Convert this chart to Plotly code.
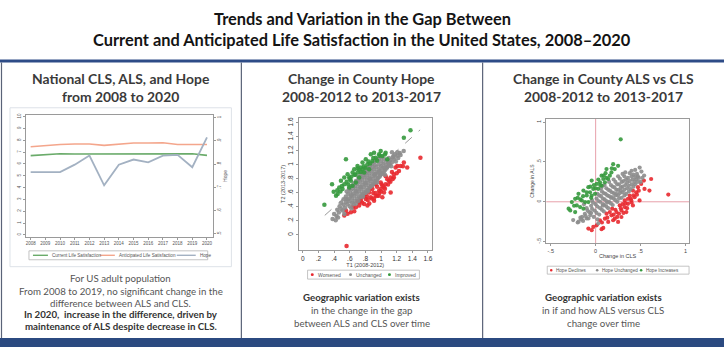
import plotly.graph_objects as go

W, H = 725, 348

def X(px):
    return px / W

def Y(py):
    return 1 - py / H

# ---------------- data ----------------
years = list(range(2008, 2021))
current_ls = [6.71, 6.81, 6.87, 6.84, 6.84, 6.84, 6.84, 6.87, 6.87, 6.87, 6.81, 6.87, 6.73]
anticipated_ls = [7.46, 7.57, 7.65, 7.69, 7.69, 7.57, 7.69, 7.77, 7.77, 7.80, 7.65, 7.65, 7.65]
hope = [0.766, 0.766, 0.766, 0.798, 0.837, 0.709, 0.798, 0.820, 0.808, 0.837, 0.840, 0.787, 0.915]
left_ticks = list(range(0, 11))
hope_ticks = [0.5, 0.6, 0.7, 0.8, 0.9, 1.0]
hope_ticktext = [".5", ".6", ".7", ".8", ".9", "1"]

mid_ticks = [0, 0.2, 0.4, 0.6, 0.8, 1.0, 1.2, 1.4, 1.6]
mid_ticktext = ["0", ".2", ".4", ".6", ".8", "1", "1.2", "1.4", "1.6"]
diag = [0.28, 1.5]

mid_worsened = [
    (0.53, 0.278), (0.572, 0.302), (0.551, 0.349), (0.657, 0.34), (0.72, 0.467), (0.742, 0.49),
    (0.784, 0.443), (0.826, 0.42), (0.805, 0.514), (0.869, 0.538), (0.911, 0.49), (0.953, 0.561),
    (0.975, 0.632), (1.017, 0.538), (1.038, 0.608), (1.059, 0.726), (1.102, 0.774), (1.123, 0.608),
    (1.165, 0.868), (1.186, 0.962), (1.208, 0.986), (1.25, 0.986), (1.292, 1.033), (1.335, 0.962),
    (1.504, 1.104), (1.038, 0.679), (0.932, 0.726), (0.996, 0.75), (0.847, 0.608), (0.763, 0.561),
    (0.89, 0.656), (1.165, 0.821), (1.229, 0.915), (0.559, -0.156), (0.678, 0.396), (0.614, 0.325),
    (0.932, 0.561), (0.996, 0.656), (1.08, 0.797), (1.123, 0.821), (0.80, 0.58), (0.86, 0.66),
    (0.74, 0.52), (0.95, 0.69), (1.01, 0.72), (0.70, 0.48), (0.83, 0.50), (0.90, 0.60),
    (0.78, 0.55), (0.64, 0.40), (0.88, 0.70), (1.06, 0.84), (1.14, 0.90), (0.98, 0.60),
    (0.85, 0.45), (0.88, 0.52), (0.93, 0.60), (0.97, 0.56), (1.00, 0.62), (1.05, 0.66), (1.09, 0.72),
    (1.12, 0.76), (0.72, 0.42), (0.76, 0.46), (0.82, 0.55), (0.91, 0.52), (1.15, 0.80), (1.20, 0.88),
    (1.28, 0.98), (1.02, 0.70),
]
mid_unchanged = [
    (0.38, 0.23), (0.42, 0.21), (0.40, 0.30), (0.43, 0.27), (0.44, 0.36), (0.46, 0.32), (0.47, 0.41),
    (0.49, 0.37), (0.49, 0.46), (0.51, 0.35), (0.52, 0.43), (0.52, 0.51), (0.54, 0.39), (0.55, 0.47),
    (0.55, 0.55), (0.57, 0.44), (0.58, 0.51), (0.58, 0.59), (0.60, 0.41), (0.60, 0.48), (0.61, 0.55),
    (0.61, 0.63), (0.63, 0.46), (0.63, 0.52), (0.64, 0.59), (0.64, 0.67), (0.66, 0.49), (0.66, 0.56),
    (0.67, 0.63), (0.67, 0.70), (0.69, 0.52), (0.69, 0.59), (0.70, 0.66), (0.70, 0.73), (0.71, 0.79),
    (0.72, 0.55), (0.72, 0.62), (0.73, 0.69), (0.73, 0.76), (0.74, 0.82), (0.75, 0.58), (0.75, 0.65),
    (0.76, 0.72), (0.76, 0.79), (0.77, 0.85), (0.78, 0.61), (0.78, 0.68), (0.79, 0.75), (0.79, 0.82),
    (0.80, 0.88), (0.81, 0.64), (0.81, 0.71), (0.82, 0.78), (0.82, 0.85), (0.83, 0.91), (0.84, 0.67),
    (0.84, 0.74), (0.85, 0.81), (0.85, 0.88), (0.86, 0.94), (0.87, 0.70), (0.87, 0.77), (0.88, 0.84),
    (0.88, 0.91), (0.89, 0.97), (0.90, 0.73), (0.90, 0.80), (0.91, 0.87), (0.91, 0.94), (0.92, 1.00),
    (0.93, 0.77), (0.93, 0.84), (0.94, 0.90), (0.94, 0.97), (0.96, 0.81), (0.96, 0.88), (0.97, 0.94),
    (0.97, 1.01), (0.99, 0.85), (0.99, 0.92), (1.00, 0.98), (1.00, 1.05), (1.02, 0.89), (1.02, 0.96),
    (1.03, 1.02), (1.04, 1.08), (1.05, 0.93), (1.06, 1.00), (1.07, 1.06), (1.08, 0.97), (1.09, 1.04),
    (1.10, 1.10), (1.11, 1.01), (1.12, 1.07), (1.14, 1.04), (1.15, 1.11), (1.17, 1.08), (1.18, 1.15),
    (1.21, 1.13), (1.24, 1.17), (1.14, 1.18), (1.21, 1.18), (1.29, 1.20), (1.25, 1.14), (0.45, 0.25),
    (0.53, 0.30), (0.62, 0.38), (0.68, 0.45), (0.77, 0.58), (0.83, 0.62), (0.95, 0.75), (1.05, 0.86),
    (0.56, 0.62), (0.59, 0.66), (0.62, 0.70), (0.65, 0.74), (0.68, 0.77), (0.71, 0.83), (0.74, 0.87),
    (0.77, 0.90), (0.80, 0.93), (0.83, 0.96), (0.86, 0.99), (0.89, 1.02), (0.92, 1.05), (0.95, 1.08),
    (0.98, 1.09), (1.01, 1.11), (0.65, 0.44), (0.71, 0.49), (0.74, 0.54), (0.77, 0.55), (0.80, 0.60),
    (0.83, 0.64), (0.86, 0.68), (0.89, 0.71), (0.92, 0.75), (0.95, 0.79), (0.98, 0.83), (1.01, 0.87),
    (1.04, 0.91), (1.07, 0.95), (1.10, 0.99), (0.56, 0.51), (0.62, 0.57), (0.68, 0.62), (0.74, 0.68),
    (0.80, 0.74), (0.86, 0.80), (0.92, 0.86), (0.98, 0.90), (1.04, 0.96), (1.10, 1.04), (1.16, 1.12),
    (1.13, 0.98), (1.19, 1.05), (1.22, 1.10),
]
mid_improved = [
    (0.275, 0.43), (0.394, 0.618), (0.373, 0.726), (0.445, 0.585), (0.487, 0.774), (0.551, 1.08),
    (0.572, 0.868), (0.593, 0.821), (0.636, 0.892), (0.657, 0.939), (0.699, 0.986), (0.742, 0.962),
    (0.763, 1.033), (0.805, 1.08), (0.826, 1.009), (0.869, 1.151), (0.911, 1.175), (0.932, 1.104),
    (0.975, 1.151), (1.017, 1.127), (1.059, 1.175), (1.08, 1.08), (0.847, 0.939), (0.784, 0.892),
    (0.72, 0.821), (0.678, 0.75), (0.636, 0.703), (0.593, 0.679), (0.53, 0.726), (0.508, 0.656),
    (0.466, 0.679), (0.424, 0.561), (1.292, 1.387), (1.377, 1.495), (0.996, 1.198), (0.89, 1.057),
    (0.53, 0.82), (0.614, 0.774), (0.699, 0.892), (0.763, 0.939), (0.56, 0.76), (0.62, 0.83),
    (0.66, 0.86), (0.74, 0.90), (0.80, 0.96), (0.86, 1.02), (0.95, 1.06), (0.48, 0.62), (0.58, 0.72),
    (0.60, 0.80), (0.67, 0.86), (0.72, 0.93), (0.78, 0.98), (0.84, 1.05), (0.90, 1.10), (0.98, 1.13),
    (1.05, 1.15), (0.70, 0.95), (0.50, 0.70), (0.44, 0.64),
]

right_ticks = [-0.5, 0, 0.5, 1]
right_ticktext = ["-.5", "0", ".5", "1"]

right_declines = [
    (-0.081, -0.336), (-0.044, -0.357), (0.066, -0.344), (0.085, -0.328), (0.011, -0.295),
    (0.14, -0.253), (0.195, -0.232), (0.25, -0.253), (0.103, -0.212), (0.176, -0.17), (0.232, -0.129),
    (0.287, -0.108), (0.324, -0.066), (0.36, -0.025), (0.397, 0.017), (0.434, 0.058), (0.452, 0.12),
    (0.471, 0.183), (0.507, 0.224), (0.544, 0.162), (0.618, 0.286), (0.599, 0.141), (0.489, 0.017),
    (0.415, -0.046), (0.342, -0.129), (0.287, -0.191), (0.213, -0.212), (0.158, -0.129),
    (0.268, -0.046), (0.324, 0.017), (0.379, 0.079), (0.415, 0.141), (0.36, 0.037), (0.184, -0.087),
    (0.121, -0.149), (0.048, -0.232), (-0.026, -0.315), (0.809, 0.091), (0.537, 0.266),
    (0.22, -0.10), (0.30, -0.03), (0.39, 0.04), (0.46, 0.09), (0.26, -0.15), (0.35, -0.08),
    (0.20, -0.16), (0.28, -0.08), (0.33, -0.02), (0.42, 0.08), (0.48, 0.14), (0.13, -0.20),
    (0.07, -0.26), (0.24, -0.19), (0.31, -0.14), (0.40, -0.01),
]
right_unchanged = [
    (-0.20, -0.26), (-0.17, -0.20), (-0.14, -0.24), (-0.12, -0.15), (-0.10, -0.08), (-0.08, -0.21),
    (-0.07, -0.13), (-0.05, -0.05), (-0.04, 0.02), (-0.02, -0.19), (-0.01, -0.11), (0.00, -0.03),
    (0.01, 0.04), (0.02, 0.10), (0.04, -0.16), (0.05, -0.08), (0.05, 0.00), (0.06, 0.07), (0.07, 0.13),
    (0.09, -0.12), (0.10, -0.04), (0.10, 0.03), (0.11, 0.10), (0.12, 0.17), (0.14, -0.08), (0.15, 0.00),
    (0.15, 0.07), (0.16, 0.14), (0.17, 0.21), (0.19, -0.04), (0.20, 0.04), (0.20, 0.11), (0.21, 0.18),
    (0.22, 0.25), (0.24, 0.00), (0.25, 0.08), (0.25, 0.15), (0.26, 0.22), (0.27, 0.29), (0.29, 0.05),
    (0.30, 0.12), (0.30, 0.19), (0.31, 0.26), (0.32, 0.32), (0.34, 0.10), (0.35, 0.17), (0.35, 0.24),
    (0.36, 0.30), (0.38, 0.36), (0.39, 0.16), (0.40, 0.22), (0.41, 0.28), (0.42, 0.34), (0.44, 0.22),
    (0.45, 0.28), (0.46, 0.35), (0.48, 0.30), (0.49, 0.43), (0.54, 0.33), (0.51, 0.38), (0.33, 0.37),
    (-0.19, -0.25), (-0.15, -0.19), (-0.25, -0.23), (-0.10, -0.21), (-0.05, -0.14), (0.02, -0.22),
    (-0.13, -0.03), (0.08, 0.20), (0.03, -0.27), (0.50, 0.25), (0.13, -0.01), (0.18, 0.06),
    (0.23, 0.10), (0.28, 0.14), (0.08, -0.03),
    (-0.16, -0.22), (-0.11, -0.18), (-0.06, -0.17), (-0.09, -0.11), (-0.04, -0.09), (-0.03, -0.01),
    (0.01, -0.14), (0.02, -0.06), (0.03, 0.01), (0.04, 0.08), (0.07, -0.10), (0.08, -0.05), (0.08, 0.04),
    (0.09, 0.11), (0.12, -0.06), (0.12, 0.01), (0.13, 0.08), (0.14, 0.15), (0.17, -0.02), (0.17, 0.05),
    (0.18, 0.12), (0.19, 0.19), (0.22, 0.02), (0.22, 0.08), (0.23, 0.15), (0.24, 0.22), (0.26, 0.04),
    (0.27, 0.11), (0.28, 0.18), (0.29, 0.25), (0.32, 0.08), (0.32, 0.15), (0.33, 0.21), (0.34, 0.28),
    (0.37, 0.13), (0.37, 0.20), (0.38, 0.26), (0.40, 0.32), (0.42, 0.19), (0.43, 0.25), (0.44, 0.31),
    (0.47, 0.25), (0.47, 0.32), (0.52, 0.30), (0.06, 0.17), (0.10, 0.21), (0.15, 0.25), (0.20, 0.28),
    (0.25, 0.32), (0.30, 0.35), (0.44, 0.40), (0.40, 0.39),
]
right_increases = [
    (0.195, 0.473), (0.25, 0.452), (0.121, 0.411), (0.176, 0.369), (0.066, 0.328), (-0.044, 0.266),
    (0.011, 0.224), (-0.081, 0.183), (-0.136, 0.141), (-0.191, 0.1), (-0.228, 0.037), (-0.265, -0.004),
    (-0.301, -0.087), (-0.283, -0.108), (-0.173, -0.066), (-0.118, -0.004), (-0.044, 0.079),
    (0.029, 0.162), (0.103, 0.245), (0.14, 0.286), (0.048, 0.245), (-0.026, 0.162), (-0.099, 0.079),
    (-0.154, 0.017), (-0.21, -0.046), (-0.063, 0.12), (-0.007, 0.1), (0.066, 0.203), (-0.136, -0.087),
    (-0.228, -0.129), (0.158, 0.328), (0.213, 0.411), (0.085, 0.286), (-0.081, -0.004), (0.279, 0.784),
    (0.00, 0.17), (0.05, 0.21), (-0.05, 0.05), (0.09, 0.33), (-0.17, 0.03),
    (-0.10, 0.12), (-0.02, 0.21), (0.03, 0.28), (0.11, 0.36), (0.18, 0.42), (-0.20, 0.05),
    (-0.24, -0.05), (-0.14, 0.07), (0.12, 0.30), (-0.06, 0.19),
]

# ---------------- styling constants ----------------
C_CLS = "#6aab6a"
C_ALS = "#f4a68c"
C_HOPE = "#a3b1c2"
C_RED = "#e8292f"
C_GRAY = "#8c8c8c"
C_GREEN = "#35993d"
NAVY = "#2e4c87"
TXT = "#444444"
AX = "#9a9a9a"

fig = go.Figure()

# ---------- left chart ----------
fig.add_trace(go.Scatter(x=years, y=current_ls, mode="lines", line=dict(color=C_CLS, width=1.6),
                         xaxis="x", yaxis="y", showlegend=False))
fig.add_trace(go.Scatter(x=years, y=anticipated_ls, mode="lines", line=dict(color=C_ALS, width=1.6),
                         xaxis="x", yaxis="y", showlegend=False))
fig.add_trace(go.Scatter(x=years, y=hope, mode="lines", line=dict(color=C_HOPE, width=1.8),
                         xaxis="x", yaxis="y2", showlegend=False))

# ---------- middle chart ----------
fig.add_trace(go.Scatter(x=diag, y=diag, mode="lines", line=dict(color="#9a9a9a", width=1, dash="dash"),
                         xaxis="x3", yaxis="y3", showlegend=False))
for pts, col in [(mid_worsened, C_RED), (mid_unchanged, C_GRAY), (mid_improved, C_GREEN)]:
    fig.add_trace(go.Scatter(x=[p[0] for p in pts], y=[p[1] for p in pts], mode="markers",
                             marker=dict(color=col, size=4.5, opacity=0.9, line=dict(width=0)),
                             xaxis="x3", yaxis="y3", showlegend=False))

# ---------- right chart ----------
for pts, col in [(right_declines, C_RED), (right_unchanged, C_GRAY), (right_increases, C_GREEN)]:
    fig.add_trace(go.Scatter(x=[p[0] for p in pts], y=[p[1] for p in pts], mode="markers",
                             marker=dict(color=col, size=4.2, opacity=0.9, line=dict(width=0)),
                             xaxis="x4", yaxis="y4", showlegend=False))

small_ax = dict(showgrid=False, zeroline=False, showline=True, linecolor=AX, linewidth=1,
                ticks="outside", tickcolor=AX, ticklen=2, tickwidth=0.8)

layout = dict(
    width=W, height=H, margin=dict(l=0, r=0, t=0, b=0),
    paper_bgcolor="white", plot_bgcolor="white", showlegend=False,
    font=dict(family="Liberation Sans, Arial, sans-serif", color=TXT),
    xaxis=dict(domain=[X(26), X(213.3)], range=[2007.68, 2020.41], tickvals=years,
               tickfont=dict(size=4.5, color="#555"), anchor="y", mirror=True, **small_ax),
    yaxis=dict(domain=[Y(237), Y(114)], range=[-0.17, 10.14], tickvals=left_ticks,
               tickangle=-90, tickfont=dict(size=4.5, color="#555"), anchor="x", **small_ax),
    yaxis2=dict(domain=[Y(237), Y(114)], range=[0.487, 1.0115], overlaying="y", side="right",
                anchor="x", tickvals=hope_ticks, ticktext=hope_ticktext, tickangle=-90,
                tickfont=dict(size=4.5, color="#555"),
                title=dict(text="Hope", font=dict(size=5, color="#555"), standoff=2), **small_ax),
    xaxis3=dict(domain=[X(299), X(432.5)], range=[-0.055, 1.651], tickvals=mid_ticks,
                ticktext=mid_ticktext, tickfont=dict(size=6.5, color="#333"), anchor="y3", mirror=True,
                title=dict(text="T1 (2008-2012)", font=dict(size=5.5, color="#444"), standoff=1),
                **small_ax),
    yaxis3=dict(domain=[Y(250), Y(117)], range=[-0.212, 1.67], tickvals=mid_ticks,
                ticktext=mid_ticktext, tickangle=-90, tickfont=dict(size=6.5, color="#333"),
                anchor="x3", mirror=True,
                title=dict(text="T2 (2013-2017)", font=dict(size=5.5, color="#444"), standoff=1),
                **small_ax),
    xaxis4=dict(domain=[X(547), X(690)], range=[-0.55, 1.04], tickvals=right_ticks,
                ticktext=right_ticktext, tickfont=dict(size=5.5, color="#444"), anchor="y4", mirror=True,
                title=dict(text="Change in CLS", font=dict(size=5.5, color="#444"), standoff=1),
                **small_ax),
    yaxis4=dict(domain=[Y(243.3), Y(118)], range=[-0.52, 1.04], tickvals=right_ticks,
                ticktext=right_ticktext, tickangle=-90, tickfont=dict(size=5, color="#444"),
                anchor="x4", mirror=True,
                title=dict(text="Change in ALS", font=dict(size=5, color="#444"), standoff=1),
                **small_ax),
)

shapes = []
# left graph region frame
shapes.append(dict(type="rect", xref="paper", yref="paper", x0=X(10), x1=X(231.7), y0=Y(267), y1=Y(106.7),
                   line=dict(color="#dde2e8", width=1), layer="below"))
# reference lines on right chart
shapes.append(dict(type="line", xref="x4", yref="y4 domain", x0=0, x1=0, y0=0, y1=1,
                   line=dict(color="#e7a0aa", width=1), layer="below"))
shapes.append(dict(type="line", xref="x4 domain", yref="y4", x0=0, x1=1, y0=0, y1=0,
                   line=dict(color="#e7a0aa", width=1), layer="below"))
# top rule, dividers, bottom band
shapes.append(dict(type="rect", xref="paper", yref="paper", x0=0, x1=1, y0=Y(61), y1=Y(58),
                   fillcolor=NAVY, line=dict(width=0)))
for xd in [1.5, 241.7, 483.3]:
    shapes.append(dict(type="line", xref="paper", yref="paper", x0=X(xd), x1=X(xd), y0=Y(339), y1=Y(61),
                       line=dict(color="#5a6378", width=1.2)))
shapes.append(dict(type="rect", xref="paper", yref="paper", x0=0, x1=1, y0=0, y1=Y(339),
                   fillcolor="#2b4a80", line=dict(width=0)))

# legends (drawn as boxes with samples)
def legend_box(x0, x1, y0, y1):
    shapes.append(dict(type="rect", xref="paper", yref="paper", x0=X(x0), x1=X(x1), y0=Y(y1), y1=Y(y0),
                       line=dict(color="#b5b5b5", width=0.8), fillcolor="white"))

legend_box(29, 208, 251, 260)
for xa, xb, col in [(33, 48, C_CLS), (100, 115, C_ALS), (177, 196, C_HOPE)]:
    shapes.append(dict(type="line", xref="paper", yref="paper", x0=X(xa), x1=X(xb), y0=Y(255.5),
                       y1=Y(255.5), line=dict(color=col, width=1.4)))
legend_box(308, 420, 270.5, 279.5)
legend_box(548, 690, 266.5, 274.5)

def dot(cx, cy, col, r=1.5):
    shapes.append(dict(type="circle", xref="paper", yref="paper", x0=X(cx - r), x1=X(cx + r),
                       y0=Y(cy + r), y1=Y(cy - r), fillcolor=col, line=dict(width=0)))

for cx, col in [(312.7, C_RED), (351, C_GRAY), (390, C_GREEN)]:
    dot(cx, 275, col)
for cx, col in [(552, C_RED), (598, C_GRAY), (642, C_GREEN)]:
    dot(cx, 270.5, col, 1.3)

annotations = []

def txt(x, y, s, size, color=TXT, family="Lato, sans-serif", xanchor="center", weight=None):
    f = dict(size=size, color=color, family=family)
    if weight:
        f["weight"] = weight
    annotations.append(dict(x=X(x), y=Y(y), xref="paper", yref="paper", text=s, showarrow=False,
                            xanchor=xanchor, yanchor="middle", font=f))

# main title
txt(362.5, 17, "Trends and Variation in the Gap Between", 16.4, "#141414", weight="bold")
txt(362.5, 38, "Current and Anticipated Life Satisfaction in the United States, 2008\u20132020", 16.4,
    "#141414", weight="bold")
# panel titles
txt(121, 77, "National CLS, ALS, and Hope", 13.9, "#3a3a3a", weight="bold")
txt(121, 95, "from 2008 to 2020", 13.9, "#3a3a3a", weight="bold")
txt(362, 77, "Change in County Hope", 13.9, "#3a3a3a", weight="bold")
txt(362, 95, "2008-2012 to 2013-2017", 13.9, "#3a3a3a", weight="bold")
txt(604, 77, "Change in County ALS vs CLS", 13.9, "#3a3a3a", weight="bold")
txt(604, 95, "2008-2012 to 2013-2017", 13.9, "#3a3a3a", weight="bold")

# legend labels
lf = "Liberation Sans, Arial, sans-serif"
txt(50, 255.5, "Current Life Satisfaction", 4.6, "#555", lf, "left")
txt(117, 255.5, "Anticipated Life Satisfaction", 4.6, "#555", lf, "left")
txt(198, 255.5, "Hope", 4.6, "#555", lf, "left")
txt(316, 275, "Worsened", 5, "#555", lf, "left")
txt(354.5, 275, "Unchanged", 5, "#555", lf, "left")
txt(393.5, 275, "Improved", 5, "#555", lf, "left")
txt(555, 270.5, "Hope Declines", 4.6, "#555", lf, "left")
txt(601, 270.5, "Hope Unchanged", 4.6, "#555", lf, "left")
txt(645, 270.5, "Hope Increases", 4.6, "#555", lf, "left")

# body text
txt(121, 278, "For US adult population", 9.7, "#555")
txt(121, 291.5, "From 2008 to 2019, no significant change in the", 9.7, "#555")
txt(121, 303.5, "difference between ALS and CLS.", 9.7, "#555")
txt(121, 315, "In 2020,  increase in the difference, driven by", 9.7, "#333", weight="bold")
txt(121, 326.5, "maintenance of ALS despite decrease in CLS.", 9.7, "#333", weight="bold")

txt(362, 298, "Geographic variation exists", 9.7, "#333", weight="bold")
txt(362, 311, "in the change in the gap", 9.7, "#555")
txt(362, 324, "between ALS and CLS over time", 9.7, "#555")

txt(604, 298, "Geographic variation exists", 9.7, "#333", weight="bold")
txt(604, 311, "in if and how ALS versus CLS", 9.7, "#555")
txt(604, 324, "change over time", 9.7, "#555")

layout["shapes"] = shapes
layout["annotations"] = annotations
fig.update_layout(**layout)

fig.write_html("out.html")
